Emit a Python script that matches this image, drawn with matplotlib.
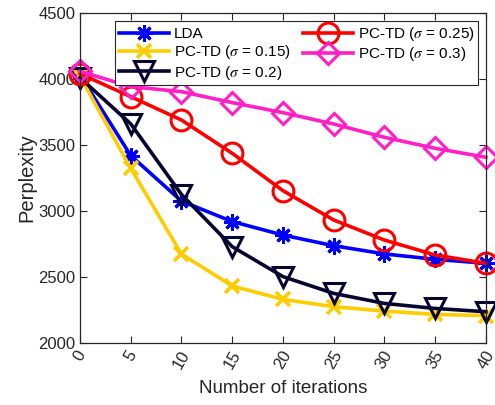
import matplotlib
matplotlib.use("Agg")
import matplotlib.pyplot as plt

plt.rcParams['font.family'] = ['Liberation Sans', 'DejaVu Sans']
plt.rcParams['mathtext.fontset'] = 'stix'

iters = [0, 5, 10, 15, 20, 25, 30, 35, 40]
lda = [4030, 3420, 3075, 2920, 2818, 2737, 2675, 2634, 2604]
pctd_015 = [4020, 3323, 2674, 2432, 2331, 2275, 2242, 2217, 2207]
pctd_02 = [4010, 3660, 3125, 2730, 2503, 2376, 2300, 2262, 2237]
pctd_025 = [4040, 3866, 3689, 3437, 3154, 2932, 2780, 2667, 2604]
pctd_03 = [4058, 3942, 3904, 3821, 3745, 3659, 3558, 3475, 3407]

fig = plt.figure(figsize=(4.95, 4.05), dpi=100)
ax = fig.add_axes([0.1616, 0.153, 0.82, 0.815])

lw = 2.6
ax.plot(iters, lda, color=(0, 0, 1), lw=lw, marker=(8, 2, 0), ms=12, mew=2.2, label='LDA')
ax.plot(iters, pctd_015, color=(1, 0.8, 0), lw=lw, marker='x', ms=10, mew=2.6,
        label=r'PC-TD ($\sigma$ = 0.15)')
ax.plot(iters, pctd_02, color=(0.02, 0.02, 0.19), lw=lw, marker='v', ms=15, mew=2.2,
        mfc='none', label=r'PC-TD ($\sigma$ = 0.2)')
ax.plot(iters, pctd_025, color=(1, 0, 0), lw=lw, marker='o', ms=15, mew=2.2,
        mfc='none', label=r'PC-TD ($\sigma$ = 0.25)')
ax.plot(iters, pctd_03, color=(1, 0.12, 0.78), lw=lw, marker='D', ms=11, mew=2.2,
        mfc='none', label=r'PC-TD ($\sigma$ = 0.3)')

ax.set_xlim(0, 40)
ax.set_ylim(2000, 4500)
ax.set_xticks(iters)
ax.set_yticks([2000, 2500, 3000, 3500, 4000, 4500])
ax.tick_params(direction='in', top=True, right=True, labelsize=12, length=5, colors='#262626')
for lab in ax.get_xticklabels():
    lab.set_rotation(60)
for s in ax.spines.values():
    s.set_color('#262626')
    s.set_linewidth(0.9)
for p in ax.get_lines():
    p.set_clip_on(False)

ax.set_xlabel('Number of iterations', fontsize=13.5, color='#262626', labelpad=6)
ax.set_ylabel('Perplexity', fontsize=14.5, color='#262626', labelpad=1)

leg = ax.legend(loc='upper right', ncol=2, fontsize=11, handlelength=3.3,
                columnspacing=0.8, handletextpad=0.3, labelspacing=0.15,
                borderpad=0.25, fancybox=False, framealpha=1, edgecolor='#262626',
                bbox_to_anchor=(1.0, 0.998))
leg.get_frame().set_linewidth(0.8)

fig.savefig('out.png', dpi=100)
